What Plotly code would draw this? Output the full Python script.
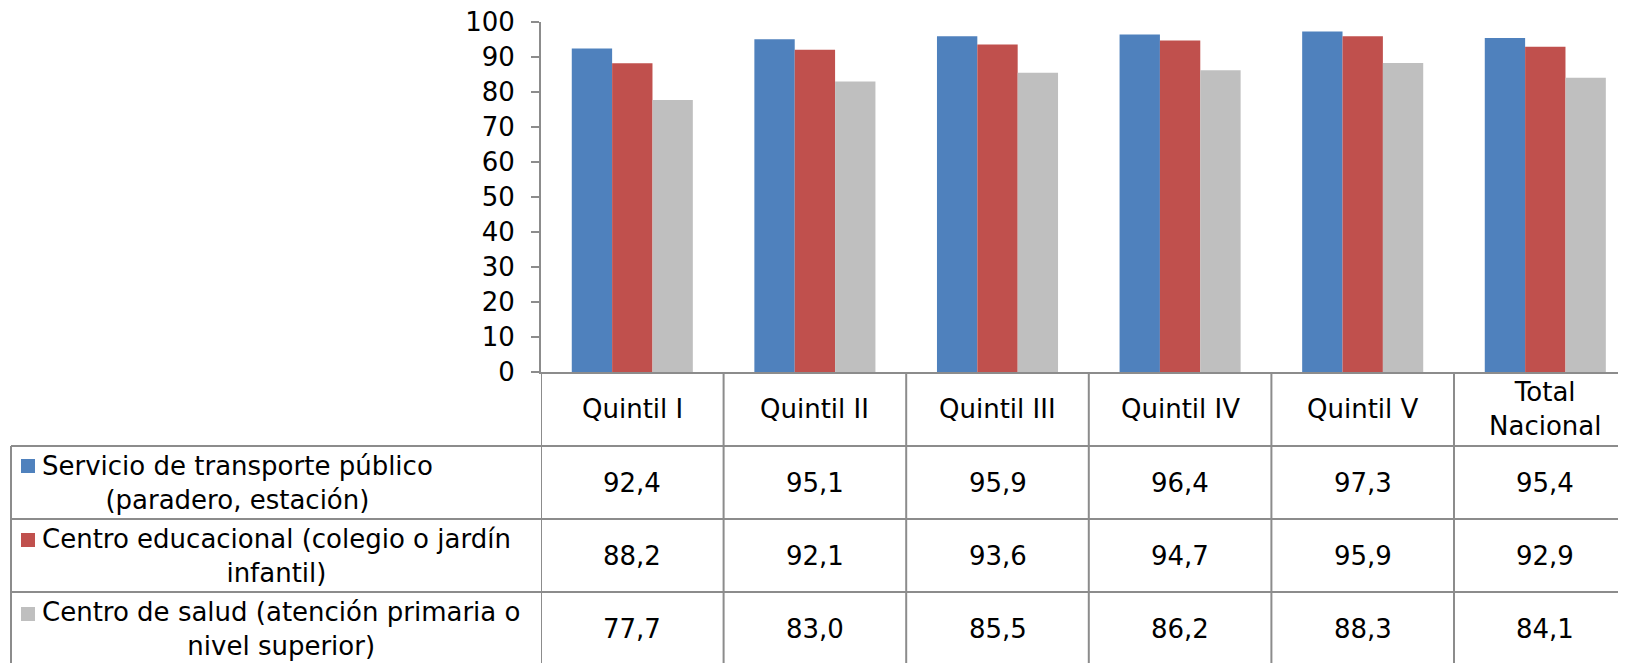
import plotly.graph_objects as go

# ---- data ----
categories = ["Quintil I", "Quintil II", "Quintil III", "Quintil IV", "Quintil V", "Total Nacional"]
header_labels = ["Quintil I", "Quintil II", "Quintil III", "Quintil IV", "Quintil V", "Total<br>Nacional"]
series_names = [
    "Servicio de transporte público<br>(paradero, estación)",
    "Centro educacional (colegio o jardín<br>infantil)",
    "Centro de salud (atención primaria o<br>nivel superior)",
]
transporte = [92.4, 95.1, 95.9, 96.4, 97.3, 95.4]
educacional = [88.2, 92.1, 93.6, 94.7, 95.9, 92.9]
salud = [77.7, 83.0, 85.5, 86.2, 88.3, 84.1]
series_values = [transporte, educacional, salud]
colors = ["#4F81BD", "#C0504D", "#BFBFBF"]
y_ticks = list(range(0, 101, 10))

# ---- layout geometry (screen pixels; page body has an 8px margin) ----
OFF = 8
SCR_W, SCR_H = 1626, 663
W, H = SCR_W - OFF, SCR_H - OFF
AX_X, TOP_Y, ZERO_Y = 541, 22, 372          # screen pixels
L, T = AX_X - OFF, TOP_Y - OFF
plot_h = ZERO_Y - TOP_Y
plot_w = W - L
B = H - T - plot_h
cat_w = 182.6
FONT = "DejaVu Sans"
FS = 26
GRID = "#8C8C8C"


def sy(pix):
    """screen row -> paper y"""
    return (ZERO_Y - pix) / plot_h


def sx(pix):
    """screen column -> paper x"""
    return (pix - AX_X) / plot_w


fig = go.Figure()
for name, vals, col in zip(series_names, series_values, colors):
    fig.add_trace(go.Bar(x=categories, y=vals, name=name.replace("<br>", " "),
                         marker=dict(color=col, line=dict(width=0)), showlegend=False))

shapes = []
annotations = []

# header labels
for cat, lab in zip(categories, header_labels):
    annotations.append(dict(x=cat, xref="x", y=sy(409), yref="paper", text=lab, showarrow=False,
                            yanchor="middle", xanchor="center", align="center",
                            font=dict(family=FONT, size=FS, color="black")))

# table rows
row_lines = [446, 519, 592]
row_centers = [483, 556, 629]
square_tops = [459, 533, 607]
for i, (name, vals, col) in enumerate(zip(series_names, series_values, colors)):
    annotations.append(dict(x=sx(40), xref="paper", y=sy(row_centers[i]), yref="paper", text=name,
                            showarrow=False, xanchor="left", yanchor="middle", align="center",
                            font=dict(family=FONT, size=FS, color="black")))
    shapes.append(dict(type="rect", xref="paper", yref="paper", x0=sx(21), x1=sx(35),
                       y0=sy(square_tops[i]), y1=sy(square_tops[i] + 14),
                       fillcolor=col, line=dict(width=0)))
    for cat, v in zip(categories, vals):
        annotations.append(dict(x=cat, xref="x", y=sy(row_centers[i]), yref="paper",
                                text=f"{v:.1f}".replace(".", ","), showarrow=False,
                                xanchor="center", yanchor="middle",
                                font=dict(family=FONT, size=FS, color="black")))

# horizontal table lines
for yy in row_lines:
    shapes.append(dict(type="line", xref="paper", yref="paper", x0=sx(11), x1=1.0,
                       y0=sy(yy), y1=sy(yy), line=dict(color=GRID, width=2)))
# left border
shapes.append(dict(type="line", xref="paper", yref="paper", x0=sx(11), x1=sx(11),
                   y0=sy(row_lines[0]), y1=sy(700), line=dict(color=GRID, width=2)))
# vertical lines between categories
for k in range(len(categories)):
    xb = k - 0.5
    shapes.append(dict(type="line", xref="x", yref="paper", x0=xb, x1=xb,
                       y0=0, y1=sy(700), line=dict(color=GRID, width=2)))

fig.update_layout(
    template="none",
    width=W, height=H,
    margin=dict(l=L, r=0, t=T, b=B, pad=0, autoexpand=False),
    paper_bgcolor="white", plot_bgcolor="white",
    barmode="group", bargap=0.337, bargroupgap=0,
    font=dict(family=FONT, size=FS, color="black"),
    shapes=shapes, annotations=annotations,
    xaxis=dict(type="category", range=[-0.5, -0.5 + plot_w / cat_w], showticklabels=False,
               ticks="", showgrid=False, showline=True, linecolor=GRID, linewidth=2,
               zeroline=False, fixedrange=True, automargin=False),
    yaxis=dict(range=[0, 100], tickvals=y_ticks, ticks="outside", ticklen=8, tickwidth=2,
               tickcolor=GRID, showline=True, linecolor=GRID, linewidth=2, showgrid=False,
               zeroline=False, ticklabelstandoff=11, automargin=False,
               ticklabeloverflow="allow",
               tickfont=dict(family=FONT, size=FS, color="black")),
)

fig.write_html("out.html")
